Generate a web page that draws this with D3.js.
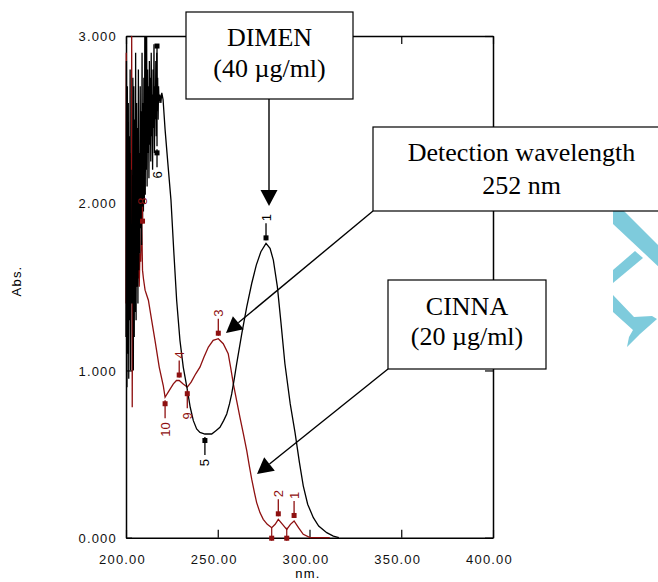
<!DOCTYPE html>
<html><head><meta charset="utf-8">
<script src="https://cdn.jsdelivr.net/npm/d3@7"></script>
<style>
html,body{margin:0;padding:0;background:#fff;}
svg{display:block;}
.tick text{font-family:"Liberation Sans",Arial,sans-serif;font-size:13px;letter-spacing:1.2px;fill:#111;}
</style></head>
<body>
<svg id="c" width="658" height="582"></svg>
<script>
// ---------- DATA ----------
const xTicks = [200, 250, 300, 350, 400];
const yTicks = [0, 1, 2, 3];
const xTitle = "nm.";
const yTitle = "Abs.";

// DIMEN (40 µg/ml) spectrum [nm, Abs]
const dimenSpectrum = [
 [200.00,1.20],[200.25,2.85],[200.50,0.90],[200.75,2.70],[201.00,1.10],[201.25,2.60],[201.50,0.95],[201.75,2.40],
 [202.00,1.30],[202.25,2.80],[202.50,1.00],[202.75,2.20],[203.00,1.50],[203.25,1.40],[203.50,1.45],[203.75,2.75],
 [204.00,1.00],[204.25,2.70],[204.50,1.20],[204.75,2.50],[205.00,1.35],[205.25,2.90],[205.50,1.30],[205.75,2.60],
 [206.00,1.50],[206.25,2.45],[206.50,1.40],[206.75,2.80],[207.00,1.60],[207.25,2.30],[207.50,1.70],[207.75,2.70],
 [208.00,1.85],[208.25,2.55],[208.50,1.75],[208.75,2.90],[209.00,1.90],[209.25,2.60],[209.50,1.95],[209.75,2.75],
 [210.00,2.00],[210.25,3.00],[210.50,2.05],[210.75,3.00],[211.00,2.20],[211.25,3.00],[211.50,2.10],[211.75,2.80],
 [212.00,2.30],[212.25,2.70],[212.50,2.15],[212.75,2.85],[213.00,2.35],[213.25,2.75],[213.50,2.25],[213.75,2.90],
 [214.00,2.40],[214.25,2.65],[214.50,2.20],[214.75,2.80],[215.00,2.45],[215.25,2.95],[215.50,2.30],[215.75,2.70],
 [216.00,2.50],[216.25,2.85],[216.50,2.40],[216.75,2.90],[217.00,2.55],[217.25,2.75],[217.50,2.50],[217.75,2.70],
 [218.00,2.60],[218.50,2.65],[219.00,2.60],[219.50,2.66],[220.20,2.62],[221.30,2.44],[222.80,2.24],[224.50,2.02],
 [226.00,1.72],[227.60,1.42],[229.40,1.18],[231.20,1.02],[233.50,0.88],[235.00,0.78],[236.70,0.70],[238.50,0.65],
 [240.30,0.63],[243.00,0.62],[246.70,0.62],[249.00,0.64],[251.20,0.66],[253.20,0.70],[254.90,0.74],[256.40,0.80],
 [257.60,0.86],[259.00,0.95],[260.30,1.04],[263.10,1.22],[265.80,1.38],[268.50,1.52],[271.00,1.63],[273.50,1.71],
 [276.30,1.76],[278.50,1.73],[280.30,1.66],[282.50,1.50],[284.50,1.28],[286.60,1.04],[289.50,0.80],[292.10,0.63],
 [294.50,0.45],[296.60,0.31],[299.00,0.20],[302.10,0.12],[305.00,0.07],[309.40,0.03],[313.00,0.01],[316.00,0.00]
];

// CINNA (20 µg/ml) spectrum [nm, Abs]
const cinnaSpectrum = [
 [200.00,1.40],[200.15,2.90],[200.30,1.20],[200.50,2.60],[200.70,1.60],[200.90,2.20],[201.10,1.50],[201.40,2.40],
 [201.70,1.70],[202.00,2.00],[202.30,1.60],[202.60,2.30],[202.90,1.80],[203.10,3.00],[203.40,0.78],[203.70,2.10],
 [204.00,1.70],[204.40,2.00],[204.80,1.55],[205.20,1.85],[205.60,1.50],[206.00,1.95],[206.40,1.55],[206.80,1.75],
 [207.20,1.50],[207.60,1.70],[208.00,1.65],[208.50,1.95],[209.00,1.60],[209.50,1.55],[210.40,1.48],[212.20,1.42],
 [214.00,1.30],[215.80,1.18],[218.10,1.02],[220.30,0.91],[221.30,0.84],[223.00,0.87],[225.80,0.92],[227.50,0.94],
 [229.00,0.94],[231.00,0.92],[233.40,0.90],[235.50,0.93],[238.00,0.98],[240.30,1.02],[242.50,1.08],[244.90,1.14],
 [247.50,1.18],[250.30,1.19],[253.00,1.16],[255.70,1.10],[257.00,1.02],[258.50,0.92],[260.30,0.82],[262.10,0.72],
 [264.00,0.62],[265.80,0.52],[267.20,0.43],[268.50,0.35],[270.00,0.27],[271.20,0.21],[273.00,0.15],[274.80,0.11],
 [277.00,0.08],[279.40,0.06],[281.30,0.08],[283.00,0.11],[285.30,0.08],[287.60,0.05],[289.60,0.08],[291.60,0.10],
 [294.00,0.06],[296.60,0.02],[300.30,0.00],[311.00,0.00]
];

// peak / valley picks [label, nm, Abs]
const dimenPeaks   = [["1",276.3,1.76]];
const dimenValleys = [["5",243.0,0.62],["6",216.9,2.34]];
const cinnaPeaks   = [["3",250.3,1.19],["4",229.0,0.94],["2",283.0,0.11],["1",291.6,0.10],["8",209.0,1.86]];
const cinnaValleys = [["10",221.3,0.84],["9",233.4,0.90]];
const cinnaBaseMarks = [279.4, 287.6];

// annotation texts
const boxDimen  = ["DIMEN", "(40 µg/ml)"];
const boxDetect = ["Detection wavelength", "252 nm"];
const boxCinna  = ["CINNA", "(20 µg/ml)"];

// ---------- DRAW ----------
const svg = d3.select("#c");
const x = d3.scaleLinear().domain([200, 400]).range([126, 493]);
const y = d3.scaleLinear().domain([0, 3]).range([537.7, 36]);
const RED = "#8e1010";

// watermark fragment at right edge
const wm = svg.append("g").attr("fill", "#7ecbdc");
wm.append("path").attr("d", "M613,211 L624,211 L660,247 L660,268 L613,224 Z");
wm.append("path").attr("d", "M635,251 L643,258 L613,283 L613,270 Z");
wm.append("path").attr("d", "M613,295 L634,317 L652,316 L657,319 L640,334 L627,347 L629,337 L633,330 L613,312 Z");

// frame and axes
const axisStyle = g => { g.select(".domain").attr("stroke", "#000").attr("stroke-width", 1.5);
                         g.selectAll(".tick line").attr("stroke", "#000").attr("stroke-width", 1.2); };

svg.append("g").attr("transform", `translate(0,${y(0)})`)
  .call(d3.axisBottom(x).tickValues(xTicks).tickFormat(d3.format(".2f")).tickSize(-8).tickSizeOuter(0).tickPadding(17))
  .call(axisStyle)
  .call(g => g.selectAll(".tick text").attr("dx", "-4"));
svg.append("g").attr("transform", `translate(${x(200)},0)`)
  .call(d3.axisLeft(y).tickValues(yTicks).tickFormat(d3.format(".3f")).tickSize(-6).tickSizeOuter(0).tickPadding(9))
  .call(axisStyle)
  .call(g => g.selectAll(".tick text").attr("dy", "0.36em"));
svg.append("g").attr("transform", `translate(0,${y(3)})`)
  .call(d3.axisTop(x).tickValues(xTicks).tickFormat("").tickSize(-8).tickSizeOuter(0))
  .call(axisStyle);
svg.append("g").attr("transform", `translate(${x(400)},0)`)
  .call(d3.axisRight(y).tickValues(yTicks).tickFormat("").tickSize(-8).tickSizeOuter(0))
  .call(axisStyle);

// axis titles
svg.append("text").text(xTitle).attr("x", 308).attr("y", 578).attr("text-anchor", "middle")
  .style("font-family", "Liberation Sans, Arial, sans-serif").style("font-size", "13px").style("letter-spacing", "1.2px");
svg.append("text").text(yTitle).attr("transform", "translate(21,281) rotate(-90)").attr("text-anchor", "middle")
  .style("font-family", "Liberation Sans, Arial, sans-serif").style("font-size", "13px").style("letter-spacing", "1.2px");

// spectra
const line = d3.line().x(d => x(d[0])).y(d => y(d[1]));
svg.append("path").datum(cinnaSpectrum).attr("d", line).attr("fill", "none").attr("stroke", RED).attr("stroke-width", 1.3);
svg.append("path").datum(dimenSpectrum).attr("d", line).attr("fill", "none").attr("stroke", "#000").attr("stroke-width", 1.3);

// peak picks
const lblFont = g => g.style("font-family", "Liberation Sans, Arial, sans-serif").style("font-size", "13px");
function peakMarks(list, col) {
  list.forEach(([lab, nm, a]) => {
    const px = x(nm), py = y(a);
    svg.append("line").attr("x1", px).attr("x2", px).attr("y1", py - 3).attr("y2", py - 20).attr("stroke", col).attr("stroke-width", 1.3);
    svg.append("rect").attr("x", px - 2.5).attr("y", py - 8).attr("width", 5).attr("height", 5).attr("fill", col);
    svg.append("text").text(lab).attr("transform", `translate(${px + 4.5},${py - 22}) rotate(-90)`)
      .attr("text-anchor", "start").attr("fill", col).call(lblFont);
  });
}
function valleyMarks(list, col) {
  list.forEach(([lab, nm, a]) => {
    const px = x(nm), py = y(a);
    svg.append("line").attr("x1", px).attr("x2", px).attr("y1", py + 3).attr("y2", py + 21).attr("stroke", col).attr("stroke-width", 1.3);
    svg.append("rect").attr("x", px - 2.5).attr("y", py + 4).attr("width", 5).attr("height", 5).attr("fill", col);
    svg.append("text").text(lab).attr("transform", `translate(${px + 4.5},${py + 25}) rotate(-90)`)
      .attr("text-anchor", "end").attr("fill", col).call(lblFont);
  });
}
peakMarks(cinnaPeaks, RED);
valleyMarks(cinnaValleys, RED);
peakMarks(dimenPeaks, "#000");
valleyMarks(dimenValleys, "#000");
// extra pick line above peak 6
{
  const px = x(216.9);
  svg.append("line").attr("x1", px).attr("x2", px).attr("y1", y(2.94)).attr("y2", y(2.34)).attr("stroke", "#000").attr("stroke-width", 1.3);
  svg.append("rect").attr("x", px - 2.5).attr("y", y(2.94) - 2.5).attr("width", 5).attr("height", 5).attr("fill", "#000");
}
cinnaBaseMarks.forEach(nm => {
  svg.append("line").attr("x1", x(nm)).attr("x2", x(nm)).attr("y1", y(0.06)).attr("y2", y(0) + 3).attr("stroke", RED).attr("stroke-width", 1.2);
  svg.append("rect").attr("x", x(nm) - 2.5).attr("y", y(0) - 2).attr("width", 5).attr("height", 5).attr("fill", RED);
});

// annotation arrows
function arrow(x1, y1, x2, y2) {
  const dx = x2 - x1, dy = y2 - y1, L = Math.hypot(dx, dy), ux = dx / L, uy = dy / L;
  const hl = 16, hw = 8.5;
  const bx = x2 - ux * hl, by = y2 - uy * hl;
  svg.append("line").attr("x1", x1).attr("y1", y1).attr("x2", bx).attr("y2", by).attr("stroke", "#000").attr("stroke-width", 1.4);
  svg.append("path").attr("d", `M${x2},${y2} L${bx - uy * hw},${by + ux * hw} L${bx + uy * hw},${by - ux * hw} Z`).attr("fill", "#000");
}
arrow(269, 99, 269, 206);
arrow(373, 211, 226, 333);
arrow(388, 369, 257, 474);

// annotation boxes
function box(x0, y0, x1, y1, lines, cx, baselines) {
  svg.append("rect").attr("x", x0).attr("y", y0).attr("width", x1 - x0).attr("height", y1 - y0)
    .attr("fill", "#fff").attr("stroke", "#000").attr("stroke-width", 1.2);
  lines.forEach((t, i) => svg.append("text").text(t).attr("x", cx).attr("y", baselines[i]).attr("text-anchor", "middle")
    .style("font-family", "Liberation Serif, Times New Roman, serif").style("font-size", "26px").attr("fill", "#000"));
}
box(186, 12, 353, 99, boxDimen, 269.5, [46, 77]);
box(373, 127, 661, 211, boxDetect, 521.5, [161, 194]);
box(388, 280, 546, 369, boxCinna, 467, [315, 345]);
</script>
</body></html>
